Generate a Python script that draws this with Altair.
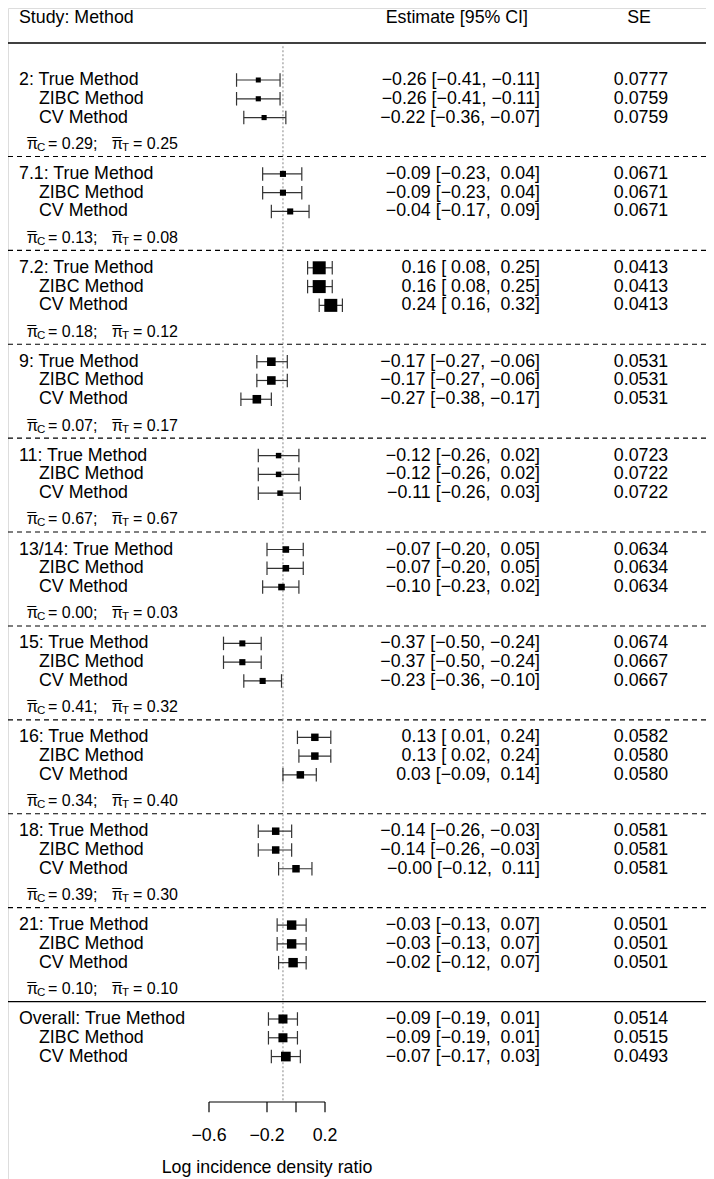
import altair as alt
import pandas as pd

# ---------------- data ----------------
studies = ["2", "7.1", "7.2", "9", "11", "13/14", "15", "16", "18", "21"]
methods = ["True Method", "ZIBC Method", "CV Method"]

est_true = [-0.26, -0.09, 0.16, -0.17, -0.12, -0.07, -0.37, 0.13, -0.14, -0.03]
lo_true = [-0.41, -0.23, 0.08, -0.27, -0.26, -0.20, -0.50, 0.01, -0.26, -0.13]
hi_true = [-0.11, 0.04, 0.25, -0.06, 0.02, 0.05, -0.24, 0.24, -0.03, 0.07]
se_true = [0.0777, 0.0671, 0.0413, 0.0531, 0.0723, 0.0634, 0.0674, 0.0582, 0.0581, 0.0501]

est_zibc = [-0.26, -0.09, 0.16, -0.17, -0.12, -0.07, -0.37, 0.13, -0.14, -0.03]
lo_zibc = [-0.41, -0.23, 0.08, -0.27, -0.26, -0.20, -0.50, 0.02, -0.26, -0.13]
hi_zibc = [-0.11, 0.04, 0.25, -0.06, 0.02, 0.05, -0.24, 0.24, -0.03, 0.07]
se_zibc = [0.0759, 0.0671, 0.0413, 0.0531, 0.0722, 0.0634, 0.0667, 0.0580, 0.0581, 0.0501]

est_cv = [-0.22, -0.04, 0.24, -0.27, -0.11, -0.10, -0.23, 0.03, -0.0, -0.02]
lo_cv = [-0.36, -0.17, 0.16, -0.38, -0.26, -0.23, -0.36, -0.09, -0.12, -0.12]
hi_cv = [-0.07, 0.09, 0.32, -0.17, 0.03, 0.02, -0.10, 0.14, 0.11, 0.07]
se_cv = [0.0759, 0.0671, 0.0413, 0.0531, 0.0722, 0.0634, 0.0667, 0.0580, 0.0581, 0.0501]

pi_c = ["0.29", "0.13", "0.18", "0.07", "0.67", "0.00", "0.41", "0.34", "0.39", "0.10"]
pi_t = ["0.25", "0.08", "0.12", "0.17", "0.67", "0.03", "0.32", "0.40", "0.30", "0.10"]

overall_est = [-0.09, -0.09, -0.07]
overall_lo = [-0.19, -0.19, -0.17]
overall_hi = [0.01, 0.01, 0.03]
overall_se = [0.0514, 0.0515, 0.0493]

tick_values = [-0.6, -0.2, 0.0, 0.2]
tick_labels = ["−0.6", "−0.2", "", "0.2"]
x_title = "Log incidence density ratio"
headers = ["Study: Method", "Estimate [95% CI]", "SE"]

# ---------------- layout constants ----------------
W, H = 698, 1171
ROW_PX = 18.78
R0_PX = 72.0
FONT = "Liberation Sans"
FS = 17.8
ROWS_PER_STUDY = 5
AXIS_R = 54.42

def fmt(v):
    s = f"{v:5.2f}".replace("-", "−")
    return s.replace(" ", "\u00a0")

recs = []
per_method = [(est_true, lo_true, hi_true, se_true),
              (est_zibc, lo_zibc, hi_zibc, se_zibc),
              (est_cv, lo_cv, hi_cv, se_cv)]
for i, s in enumerate(studies):
    for j, (e, l, h, se) in enumerate(per_method):
        recs.append(dict(r=ROWS_PER_STUDY * i + j, first=(j == 0),
                         label=(f"{s}: {methods[0]}" if j == 0 else methods[j]),
                         est=e[i], lo=l[i], hi=h[i], se=se[i]))
for j in range(3):
    recs.append(dict(r=ROWS_PER_STUDY * len(studies) + j, first=(j == 0),
                     label=("Overall: " + methods[0] if j == 0 else methods[j]),
                     est=overall_est[j], lo=overall_lo[j], hi=overall_hi[j], se=overall_se[j]))
df = pd.DataFrame(recs)
df["txt"] = [f"{fmt(e)} [{fmt(l)}, {fmt(h)}]" for e, l, h in zip(df.est, df.lo, df.hi)]
df["setxt"] = [f"{v:.4f}" for v in df.se]
w = 1 / df.se ** 2
side = 5 + 8 * (w - w.min()) / (w.max() - w.min())
df["area"] = side ** 2
df["cap1"] = df.r - 0.36
df["cap2"] = df.r + 0.36

pi_df = pd.DataFrame(dict(r=[ROWS_PER_STUDY * i + 3.4 for i in range(len(studies))],
                          c=["= " + v + ";" for v in pi_c],
                          t=["= " + v for v in pi_t]))

sep_df = pd.DataFrame(dict(r=[ROWS_PER_STUDY * i + 4.07 for i in range(len(studies))],
                           solid=[i == len(studies) - 1 for i in range(len(studies))]))

XS = alt.Scale(domain=[-1.9862, 2.8276], nice=False, zero=False)
YS = alt.Scale(domain=[-R0_PX / ROW_PX, (H - R0_PX) / ROW_PX], reverse=True, nice=False, zero=False)

def X(f):
    return alt.X(f, scale=XS, axis=None, title=None)

def Y(f):
    return alt.Y(f, scale=YS, axis=None, title=None)

base = alt.Chart(df)

# header (alphabetic baseline so nothing is clipped at the top)
hdr = pd.DataFrame(dict(r=[-3.01], a=[headers[0]], b=[headers[1]], c=[headers[2]]))
hbase = alt.Chart(hdr)
h1 = hbase.mark_text(align="left", baseline="alphabetic", font=FONT, fontSize=FS).encode(
    x=alt.value(11), y=Y("r:Q"), text="a:N")
h2 = hbase.mark_text(align="right", baseline="alphabetic", font=FONT, fontSize=FS).encode(
    x=alt.value(520), y=Y("r:Q"), text="b:N")
h3 = hbase.mark_text(align="center", baseline="alphabetic", font=FONT, fontSize=FS).encode(
    x=alt.value(631), y=Y("r:Q"), text="c:N")
hline = alt.Chart(pd.DataFrame(dict(r=[-1.97]))).mark_rule(color="black", strokeWidth=1.3).encode(
    x=alt.value(0), x2=alt.value(W), y=Y("r:Q"))

# separators
dashed = alt.Chart(sep_df).transform_filter("!datum.solid").mark_rule(
    color="black", strokeWidth=1.1, strokeDash=[5, 4]).encode(x=alt.value(0), x2=alt.value(W), y=Y("r:Q"))
solid = alt.Chart(sep_df).transform_filter("datum.solid").mark_rule(
    color="black", strokeWidth=1.3).encode(x=alt.value(0), x2=alt.value(W), y=Y("r:Q"))

# reference dotted line at overall estimate
ref = alt.Chart(pd.DataFrame(dict(x=[overall_est[0]], r1=[-1.8], r2=[AXIS_R]))).mark_rule(
    color="#9a9a9a", strokeWidth=1.2, strokeDash=[2, 2]).encode(x=X("x:Q"), y=Y("r1:Q"), y2="r2:Q")

# CIs
ci = base.mark_rule(color="#333333", strokeWidth=1.2).encode(x=X("lo:Q"), x2="hi:Q", y=Y("r:Q"))
cap_lo = base.mark_rule(color="#333333", strokeWidth=1.2).encode(x=X("lo:Q"), y=Y("cap1:Q"), y2="cap2:Q")
cap_hi = base.mark_rule(color="#333333", strokeWidth=1.2).encode(x=X("hi:Q"), y=Y("cap1:Q"), y2="cap2:Q")
pts = base.mark_square(color="black", opacity=1, filled=True, strokeWidth=0).encode(
    x=X("est:Q"), y=Y("r:Q"), size=alt.Size("area:Q", scale=None, legend=None))

# label columns
lab1 = base.transform_filter("datum.first").mark_text(
    align="left", baseline="middle", font=FONT, fontSize=FS).encode(x=alt.value(11), y=Y("r:Q"), text="label:N")
lab2 = base.transform_filter("!datum.first").mark_text(
    align="left", baseline="middle", font=FONT, fontSize=FS).encode(x=alt.value(31), y=Y("r:Q"), text="label:N")
esttxt = base.mark_text(align="right", baseline="middle", font=FONT, fontSize=FS).encode(
    x=alt.value(532), y=Y("r:Q"), text="txt:N")
setxt = base.mark_text(align="center", baseline="middle", font=FONT, fontSize=FS).encode(
    x=alt.value(633), y=Y("r:Q"), text="setxt:N")

# pi rows: bar(pi)_C = ..;  bar(pi)_T = ..
PFS = 16
pbase = alt.Chart(pi_df)
pi1 = pbase.mark_text(align="left", baseline="middle", font=FONT, fontSize=PFS, text="π").encode(
    x=alt.value(19), y=Y("r:Q"))
bar1 = pbase.mark_text(align="left", baseline="middle", font=FONT, fontSize=PFS, text="¯", dy=1).encode(
    x=alt.value(19.3), y=Y("r:Q"))
pic = pbase.mark_text(align="left", baseline="middle", font=FONT, fontSize=11.5, text="C", dy=4).encode(
    x=alt.value(29), y=Y("r:Q"))
pi1v = pbase.mark_text(align="left", baseline="middle", font=FONT, fontSize=PFS).encode(
    x=alt.value(40), y=Y("r:Q"), text="c:N")
pi2 = pbase.mark_text(align="left", baseline="middle", font=FONT, fontSize=PFS, text="π").encode(
    x=alt.value(104), y=Y("r:Q"))
bar2 = pbase.mark_text(align="left", baseline="middle", font=FONT, fontSize=PFS, text="¯", dy=1).encode(
    x=alt.value(104.3), y=Y("r:Q"))
pit = pbase.mark_text(align="left", baseline="middle", font=FONT, fontSize=11.5, text="T", dy=4).encode(
    x=alt.value(114), y=Y("r:Q"))
pi2v = pbase.mark_text(align="left", baseline="middle", font=FONT, fontSize=PFS).encode(
    x=alt.value(125), y=Y("r:Q"), text="t:N")

# custom axis drawn through the x scale
ax_df = pd.DataFrame(dict(v=tick_values, lab=tick_labels, r1=[AXIS_R] * 4, r2=[AXIS_R + 0.55] * 4,
                          rl=[AXIS_R + 1.8] * 4))
axline = alt.Chart(pd.DataFrame(dict(a=[min(tick_values)], b=[max(tick_values)], r=[AXIS_R]))).mark_rule(
    color="black", strokeWidth=1.2).encode(x=X("a:Q"), x2="b:Q", y=Y("r:Q"))
axticks = alt.Chart(ax_df).mark_rule(color="black", strokeWidth=1.2).encode(
    x=X("v:Q"), y=Y("r1:Q"), y2="r2:Q")
axlabs = alt.Chart(ax_df).mark_text(align="center", baseline="middle", font=FONT, fontSize=FS).encode(
    x=X("v:Q"), y=Y("rl:Q"), text="lab:N")
axtitle = alt.Chart(pd.DataFrame(dict(v=[(min(tick_values) + max(tick_values)) / 2], r=[57.95], t=[x_title]))).mark_text(
    align="center", baseline="middle", font=FONT, fontSize=FS).encode(x=X("v:Q"), y=Y("r:Q"), text="t:N")

chart = alt.layer(
    h1, h2, h3, hline, dashed, solid, ref, ci, cap_lo, cap_hi, pts,
    lab1, lab2, esttxt, setxt, pi1, bar1, pic, pi1v, pi2, bar2, pit, pi2v,
    axline, axticks, axlabs, axtitle
).properties(
    width=W, height=H, padding=0, autosize=alt.AutoSizeParams(type="none")
).configure_view(stroke=None).configure(background="white")

chart.save("out.html", embed_options={"renderer": "svg", "actions": False})
